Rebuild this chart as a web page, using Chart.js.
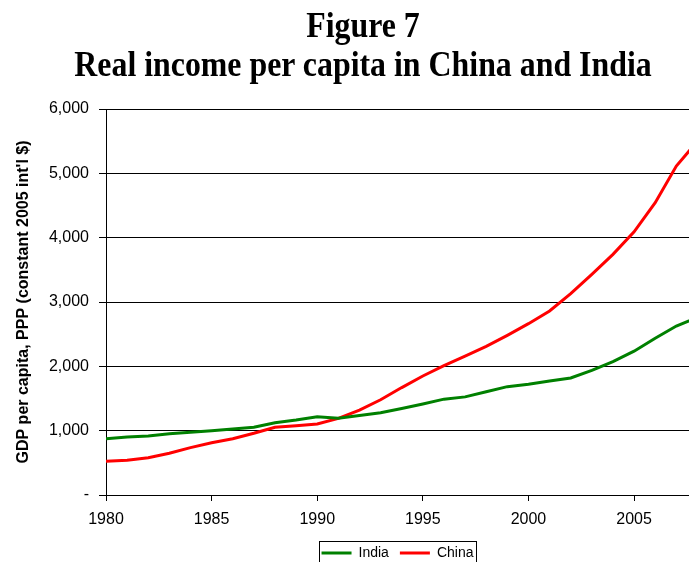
<!DOCTYPE html>
<html>
<head>
<meta charset="utf-8">
<script src="https://cdn.jsdelivr.net/npm/chart.js@4"></script>
<style>
  body { margin: 0; background: #fff; overflow: hidden; }
  #wrap { position: relative; width: 689px; height: 562px; overflow: hidden; }
  #title {
    position: absolute; left: 0; top: 6px; width: 726px;
    text-align: center; white-space: nowrap;
    font: bold 36px "Liberation Serif", "Times New Roman", serif;
    line-height: 39.4px; color: #000;
    transform: scaleX(0.885); transform-origin: 363px 0;
  }
  canvas { position: absolute; left: 0; top: 0; }
</style>
</head>
<body>
<div id="wrap">
  <canvas id="chart" width="689" height="570"></canvas>
  <div id="title">Figure 7<br>Real income per capita in China and India</div>
</div>
<script>
const years = [1980, 1981, 1982, 1983, 1984, 1985, 1986, 1987, 1988, 1989,
               1990, 1991, 1992, 1993, 1994, 1995, 1996, 1997, 1998, 1999,
               2000, 2001, 2002, 2003, 2004, 2005, 2006, 2007, 2008];
const india = [875, 902, 917, 953, 974, 1000, 1026, 1052, 1124, 1166,
               1217, 1195, 1235, 1280, 1345, 1415, 1490, 1525, 1605, 1684,
               1720, 1772, 1819, 1938, 2072, 2235, 2436, 2627, 2760];
const china = [523, 539, 580, 648, 736, 813, 875, 959, 1052, 1078,
               1105, 1190, 1320, 1480, 1670, 1850, 2010, 2160, 2310, 2482,
               2663, 2860, 3129, 3431, 3741, 4090, 4544, 5114, 5500];
const yTicks = [0, 1000, 2000, 3000, 4000, 5000, 6000];

function toPoints(values) {
    return years.map((yr, i) => ({ x: yr, y: values[i] }));
}

// thin frame around the legend, like the Excel legend box
const legendFrame = {
    id: 'legendFrame',
    afterDraw(chart) {
        const boxes = chart.legend.legendHitBoxes;
        if (!boxes || !boxes.length) return;
        const first = boxes[0];
        const last = boxes[boxes.length - 1];
        const ctx = chart.ctx;
        ctx.save();
        ctx.strokeStyle = '#000';
        ctx.lineWidth = 1;
        ctx.strokeRect(Math.round(first.left - 3) + 0.5, Math.round(first.top - 5) + 0.5,
                       Math.round(last.left + last.width - first.left + 5), Math.round(first.height + 12));
        ctx.restore();
    }
};

const ctx = document.getElementById('chart').getContext('2d');

new Chart(ctx, {
    type: 'line',
    data: {
        datasets: [
            {
                label: 'India',
                data: toPoints(india),
                borderColor: '#008000',
                backgroundColor: '#008000',
                borderWidth: 3,
                pointRadius: 0,
                tension: 0
            },
            {
                label: 'China',
                data: toPoints(china),
                borderColor: '#ff0000',
                backgroundColor: '#ff0000',
                borderWidth: 3,
                pointRadius: 0,
                tension: 0
            }
        ]
    },
    options: {
        responsive: false,
        animation: false,
        layout: { padding: { top: 109, left: 0, right: 0, bottom: 0 } },
        plugins: {
            tooltip: { enabled: false },
            legend: {
                position: 'bottom',
                fullSize: false,
                labels: {
                    color: '#000',
                    font: { family: 'Liberation Sans', size: 14 },
                    boxWidth: 30,
                    boxHeight: 3,
                    padding: 11,
                    generateLabels(chart) {
                        return Chart.defaults.plugins.legend.labels.generateLabels(chart)
                            .map(item => Object.assign(item, { lineWidth: 0 }));
                    }
                }
            }
        },
        scales: {
            x: {
                type: 'linear',
                min: 1980,
                max: 2007.6,
                afterFit(scale) { scale.height = 40; },
                border: { color: '#000', width: 1 },
                grid: { drawOnChartArea: false, drawTicks: true, tickLength: 6, color: '#000' },
                ticks: {
                    stepSize: 5,
                    includeBounds: false,
                    maxRotation: 0,
                    padding: 9,
                    color: '#000',
                    font: { family: 'Liberation Sans', size: 16 },
                    callback: v => String(v)
                }
            },
            y: {
                min: 0,
                max: 6000,
                afterFit(scale) { scale.width = 106; },
                afterBuildTicks(scale) { scale.ticks = yTicks.map(v => ({ value: v })); },
                border: { color: '#000', width: 1 },
                grid: { color: '#000', lineWidth: 1, drawTicks: true, tickLength: 7 },
                ticks: {
                    padding: 10,
                    color: '#000',
                    font: { family: 'Liberation Sans', size: 16 },
                    callback: v => v === 0 ? '-' : v.toLocaleString('en-US')
                },
                title: {
                    display: true,
                    text: "GDP per capita, PPP (constant 2005 int'l $)",
                    color: '#000',
                    font: { family: 'Liberation Sans', size: 16, weight: 'bold' },
                    padding: { top: 14, bottom: 0 }
                }
            }
        }
    },
    plugins: [legendFrame]
});
</script>
</body>
</html>
